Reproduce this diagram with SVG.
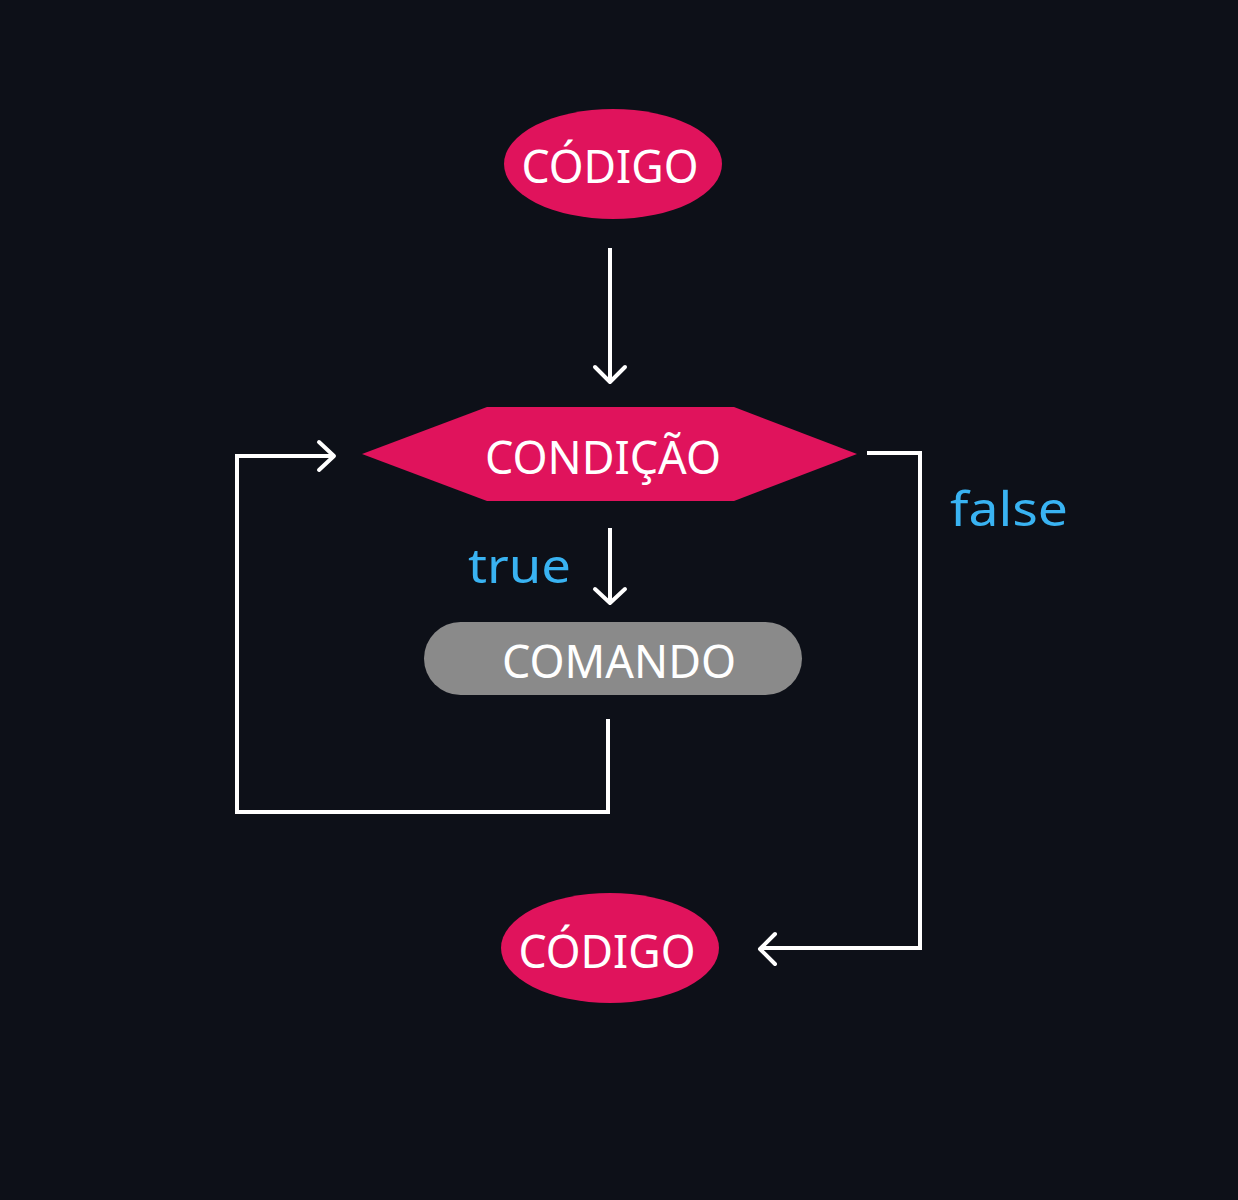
<svg xmlns="http://www.w3.org/2000/svg" width="1238" height="1200" viewBox="0 0 1238 1200">
<style>
.bg{fill:#0d1018}
.red{fill:#e0135c}
.grey{fill:#8a8a8a}
.lbl{font-family:"Noto Sans","Liberation Sans",sans-serif;fill:#ffffff;text-anchor:middle}
.blue{font-family:"Noto Sans","Liberation Sans",sans-serif;fill:#39b3f2;text-anchor:start}
.wire{fill:none;stroke:#ffffff;stroke-width:4}
.head{fill:none;stroke:#ffffff;stroke-width:4;stroke-linecap:round;stroke-linejoin:round}
</style>
<rect class="bg" x="0" y="0" width="1238" height="1200"/>
<g id="codigo-top">
<ellipse class="red" cx="613" cy="164" rx="109" ry="55"/>
<text class="lbl" x="610" y="183" font-size="45" textLength="177" lengthAdjust="spacingAndGlyphs">CÓDIGO</text>
</g>
<g id="condicao">
<polygon class="red" points="362,454 487,407 734,407 857,454 734,501 487,501"/>
<text class="lbl" x="603" y="474" font-size="46" textLength="236" lengthAdjust="spacingAndGlyphs">CONDIÇÃO</text>
</g>
<g id="comando">
<rect class="grey" x="424" y="622" width="378" height="73" rx="36.5"/>
<text class="lbl" x="619" y="678" font-size="45" textLength="234" lengthAdjust="spacingAndGlyphs">COMANDO</text>
</g>
<g id="codigo-bottom">
<ellipse class="red" cx="610" cy="948" rx="109" ry="55"/>
<text class="lbl" x="607" y="968" font-size="45" textLength="177" lengthAdjust="spacingAndGlyphs">CÓDIGO</text>
</g>
<g id="connectors">
<line class="wire" x1="610" y1="248" x2="610" y2="381"/>
<polyline class="head" points="595,367 610,382 625,367"/>
<line class="wire" x1="610" y1="528" x2="610" y2="602"/>
<polyline class="head" points="595,589 610,603 625,589"/>
<polyline class="wire" points="867,453 920,453 920,948 762,948"/>
<polyline class="head" points="775,934 760,949 775,964"/>
<polyline class="wire" points="608,719 608,812 237,812 237,456 333,456"/>
<polyline class="head" points="319,442 334,456 319,470"/>
</g>
<g id="labels">
<text class="blue" x="468" y="583" font-size="48" textLength="103" lengthAdjust="spacingAndGlyphs">true</text>
<text class="blue" x="950" y="526" font-size="48" textLength="118" lengthAdjust="spacingAndGlyphs">false</text>
</g>
</svg>
